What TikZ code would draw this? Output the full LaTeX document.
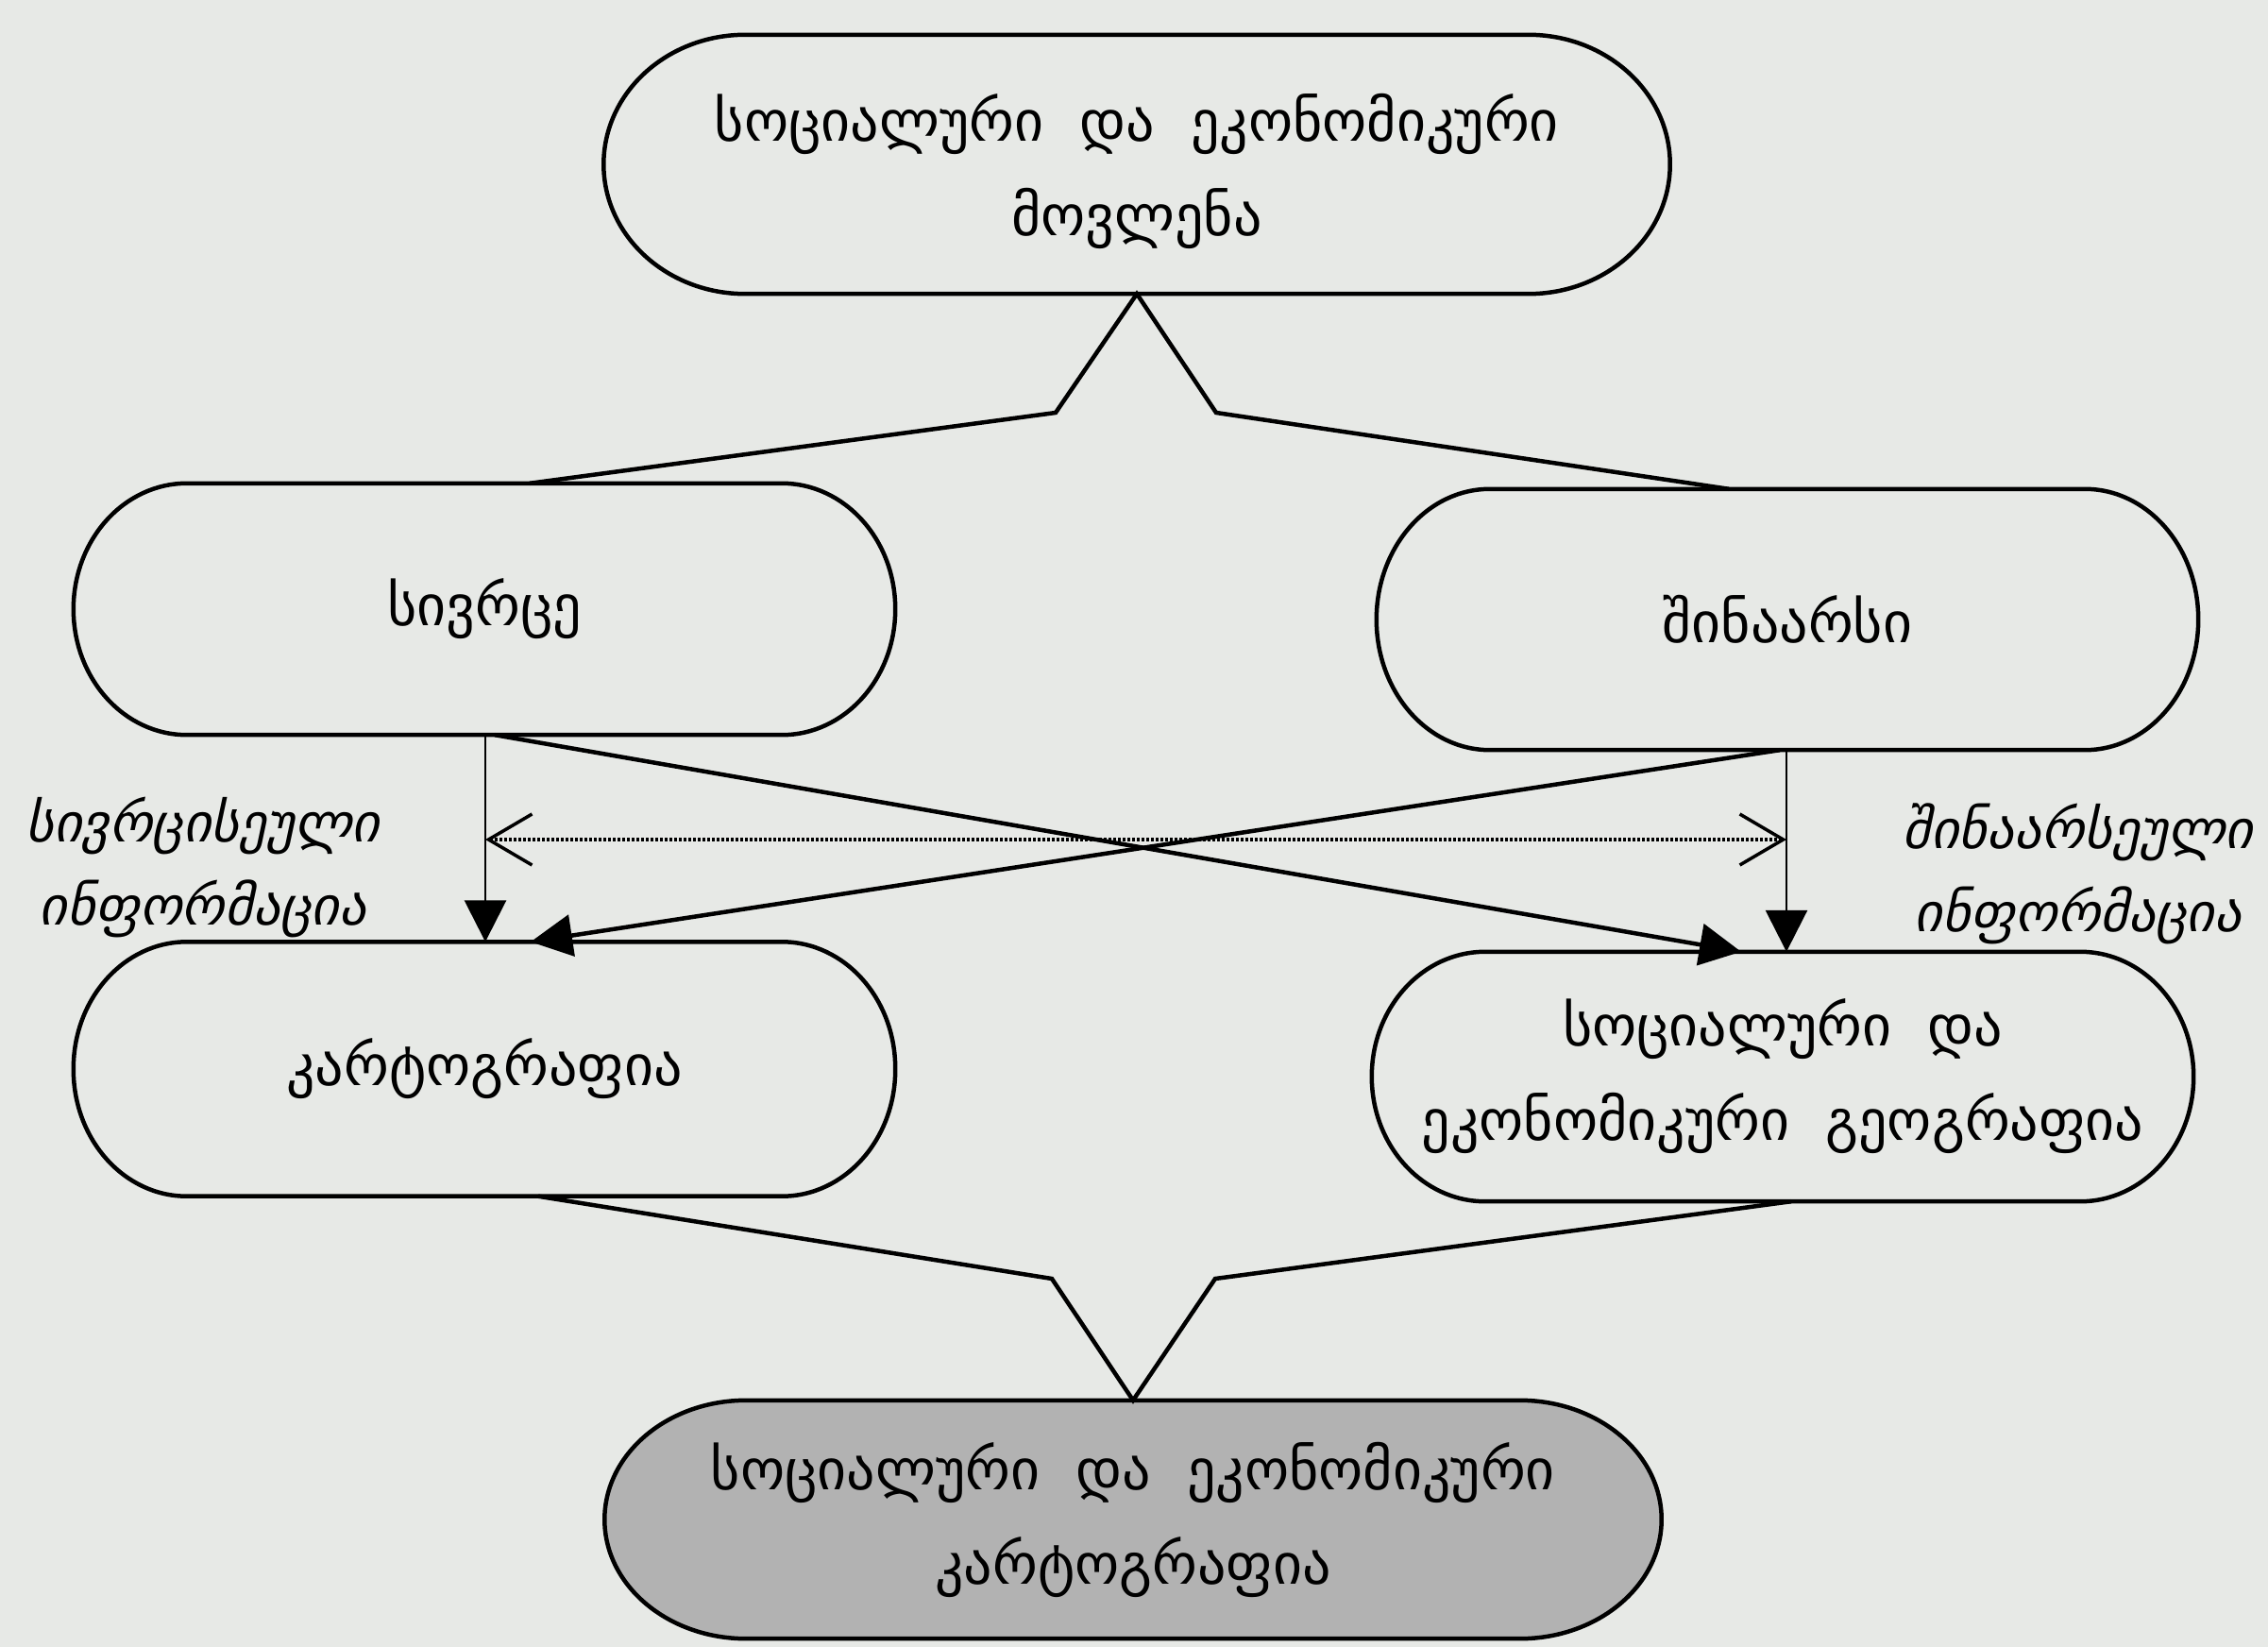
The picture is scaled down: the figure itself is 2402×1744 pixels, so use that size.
\documentclass[tikz,border=0pt]{standalone}
\usepackage{fontspec}
\setmainfont{DejaVu Sans}
\usetikzlibrary{arrows.meta,backgrounds}
\definecolor{paper}{HTML}{E7E9E6}
\definecolor{pillgrey}{HTML}{B2B2B2}
\newcommand\pillshape[4][]{%
 \draw[boxline,#1] ([xshift=#3]#2.north west) -- ([xshift=-#3]#2.north east)
   arc[start angle=90,end angle=0,x radius=#3,y radius=#4]
   -- ([yshift=#4]#2.south east)
   arc[start angle=0,end angle=-90,x radius=#3,y radius=#4]
   -- ([xshift=#3]#2.south west)
   arc[start angle=270,end angle=180,x radius=#3,y radius=#4]
   -- ([yshift=-#4]#2.north west)
   arc[start angle=180,end angle=90,x radius=#3,y radius=#4] -- cycle;}
\begin{document}
\begin{tikzpicture}[x=1pt,y=-1pt,
  boxline/.style={draw=black,line width=4.5pt,fill=paper},
  box/.style={draw=none,align=center,inner sep=0pt,
     font=\fontsize{60}{100}\selectfont},
  lab/.style={align=center,inner sep=0pt,
     font=\fontsize{57}{88}\selectfont\itshape},
  conn/.style={draw=black,line width=4.5pt,line join=miter},
  vert/.style={draw=black,line width=2.8pt},
  tri/.style={-{Triangle[length=44pt,width=44pt]}},
  dots/.style={draw=black,line width=3.5pt,dash pattern=on 2.5pt off 2.5pt,
     {Straight Barb[length=46pt,width=54pt,line width=3.5pt]}-{Straight Barb[length=46pt,width=54pt,line width=3.5pt]}}
]
\useasboundingbox (0,0) rectangle (2402,1744);
% nodes (text)
\node[box,minimum width=1129pt,minimum height=274pt,text depth=0pt] (top) at (1204,174)
  {სოციალური\ \ და\ \ ეკონომიკური\\მოვლენა};
\node[box,minimum width=870pt,minimum height=266pt] (sv) at (513,645) {სივრცე};
\node[box,minimum width=870pt,minimum height=276pt] (sn) at (1893,656) {შინაარსი};
\node[box,minimum width=870pt,minimum height=269pt] (kt) at (513,1132) {კარტოგრაფია};
\node[box,minimum width=870pt,minimum height=264pt] (seg) at (1888,1140)
  {სოციალური\ \ და\\ეკონომიკური\ \ გეოგრაფია};
\node[box,minimum width=1119pt,minimum height=252pt] (bot) at (1200,1609)
  {სოციალური\ \ და\ \ ეკონომიკური\\კარტოგრაფია};
\node[lab] (lL) at (215,918) {სივრცისეული\\ინფორმაცია};
\node[lab] (lR) at (2201,925) {შინაარსეული\\ინფორმაცია};
% outlines
\begin{scope}[on background layer]
\fill[paper] (0,0) rectangle (2402,1744);
\pillshape{top}{150pt}{137pt}
\pillshape{sv}{120pt}{133pt}
\pillshape{sn}{120pt}{138pt}
\pillshape{kt}{120pt}{134pt}
\pillshape{seg}{120pt}{132pt}
\pillshape[fill=pillgrey]{bot}{150pt}{126pt}
\end{scope}
% bends
\coordinate (ubl) at (1118,437);
\coordinate (ubr) at (1288,437);
\coordinate (lbl) at (1114,1354);
\coordinate (lbr) at (1287,1354);
\coordinate (dL) at (514,889);
\coordinate (dR) at (1892,889);
% funnels
\draw[conn] ([xshift=48pt]sv.north) -- (ubl) -- (top.south) -- (ubr) -- ([xshift=-62pt]sn.north);
\draw[conn] ([xshift=57pt]kt.south) -- (lbl) -- (bot.north) -- (lbr) -- ([xshift=9pt]seg.south);
% verticals
\draw[vert,tri] ([xshift=1pt]sv.south) -- ([xshift=1pt]kt.north);
\draw[vert,tri] ([xshift=-1pt]sn.south) -- ([xshift=4pt]seg.north);
% crossing
\draw[conn,tri] ([xshift=11pt]sv.south) -- ([xshift=-44pt]seg.north);
\draw[conn,tri] ([xshift=-8pt]sn.south) -- ([xshift=49pt]kt.north);
% dotted double arrow
\draw[dots] (dL) -- (dR);
\end{tikzpicture}
\end{document}
